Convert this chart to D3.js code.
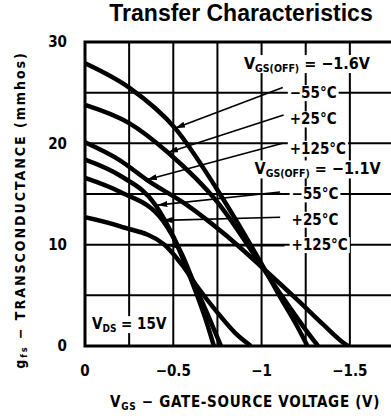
<!DOCTYPE html>
<html>
<head>
<meta charset="utf-8">
<script src="https://cdn.jsdelivr.net/npm/d3@7"></script>
<style>
  body { margin: 0; background: #fff; }
  svg { display: block; }
  .cond { font-family: "Liberation Sans Narrow", "DejaVu Sans Condensed", "Liberation Sans", sans-serif; font-weight: bold; font-stretch: condensed; fill: #000; }
  .title { font-family: "Liberation Sans", Arial, sans-serif; font-weight: bold; font-size: 23px; fill: #000; }
</style>
</head>
<body>
<div id="chart"></div>
<script>
/* Transfer Characteristics - gfs vs VGS */

// axis ticks and grid
const xTickValues = [0, -0.5, -1, -1.5];
const xTickLabels = ["0", "\u22120.5", "\u22121", "\u22121.5"];
const yTickValues = [0, 10, 20, 30];
const xGridValues = [-0.25, -0.5, -0.75, -1, -1.25, -1.5, -1.75];
const yGridValues = [5, 10, 15, 20, 25];

// VGS(OFF) = -1.6V curves  [VGS (V), gfs (mmhos)]
const curveA55 = [[0, 27.9], [-0.25, 25.5], [-0.51, 21.5], [-0.75, 15.4], [-1.0, 8.1], [-1.1, 5.0], [-1.2, 2.0], [-1.26, 0]];
const curveA25 = [[0, 23.8], [-0.25, 22.0], [-0.47, 19.1], [-0.75, 14.2], [-1.0, 7.9], [-1.12, 4.8], [-1.25, 1.6], [-1.32, 0]];
const curveA125 = [[0, 20.1], [-0.2, 18.3], [-0.35, 16.4], [-0.57, 14.0], [-0.8, 10.9], [-1.0, 7.8], [-1.2, 4.6], [-1.35, 2.1], [-1.45, 0.5], [-1.49, 0]];

// VGS(OFF) = -1.1V curves
const curveB55 = [[0, 18.4], [-0.2, 16.8], [-0.4, 13.9], [-0.5, 10.8], [-0.6, 6.6], [-0.68, 2.8], [-0.73, 0]];
const curveB25 = [[0, 16.6], [-0.2, 15.2], [-0.44, 12.4], [-0.55, 9.0], [-0.62, 6.1], [-0.7, 2.9], [-0.77, 0]];
const curveB125 = [[0, 12.7], [-0.2, 11.8], [-0.45, 10.0], [-0.55, 8.0], [-0.63, 6.0], [-0.75, 3.3], [-0.85, 1.3], [-0.94, 0]];

const curves = [curveA55, curveA25, curveA125, curveB55, curveB25, curveB125];

// curve labels: text, label anchor (VGS, gfs), arrow start, arrow tip
const labelTexts = ["\u221255\u00b0C", "+25\u00b0C", "+125\u00b0C", "\u221255\u00b0C", "+25\u00b0C", "+125\u00b0C"];
const labelPos = [[-1.16, 25.0], [-1.16, 22.4], [-1.16, 19.5], [-1.17, 15.0], [-1.17, 12.5], [-1.17, 10.0]];
const arrowFrom = [[-1.12, 25.5], [-1.125, 22.8], [-1.12, 20.0], [-1.105, 15.2], [-1.105, 12.7], [-1.13, 9.9]];
const arrowTo = [[-0.51, 21.5], [-0.47, 19.1], [-0.35, 16.4], [-0.41, 13.9], [-0.44, 12.4], [-0.47, 9.9]];

const groupLabels = ["\u22121.6V", "\u22121.1V"];
const groupLabelPos = [[-0.9, 27.9], [-0.96, 17.5]];

const W = 391, H = 416;
const svg = d3.select("#chart").append("svg")
    .attr("width", W)
    .attr("height", H);

const x = d3.scaleLinear().domain([0, -1.75]).range([85, 394]);
const y = d3.scaleLinear().domain([0, 30]).range([346, 42]);

const defs = svg.append("defs");
defs.append("clipPath")
    .attr("id", "plot-clip")
    .append("rect")
    .attr("x", 85).attr("y", 42)
    .attr("width", W - 85).attr("height", 346 - 42);

defs.append("marker")
    .attr("id", "arrowhead")
    .attr("viewBox", "0 0 10 6")
    .attr("refX", 10).attr("refY", 3)
    .attr("markerWidth", 10).attr("markerHeight", 6)
    .attr("markerUnits", "userSpaceOnUse")
    .attr("orient", "auto")
    .append("path")
    .attr("d", "M0,0 L10,3 L0,6 Z")
    .attr("fill", "#000");

// TITLE
svg.append("text")
    .attr("class", "title")
    .attr("x", 241)
    .attr("y", 21)
    .attr("text-anchor", "middle")
    .text("Transfer Characteristics");

const plot = svg.append("g").attr("clip-path", "url(#plot-clip)");

// GRID LINES
plot.selectAll(".vgrid")
    .data(xGridValues)
    .enter()
    .append("line")
    .attr("x1", d => x(d)).attr("x2", d => x(d))
    .attr("y1", y(30)).attr("y2", y(0))
    .attr("stroke", "#000")
    .attr("stroke-width", 2);

plot.selectAll(".hgrid")
    .data(yGridValues)
    .enter()
    .append("line")
    .attr("x1", x(0)).attr("x2", W)
    .attr("y1", d => y(d)).attr("y2", d => y(d))
    .attr("stroke", "#000")
    .attr("stroke-width", 2);

// CURVES
const line = d3.line()
    .x(d => x(d[0]))
    .y(d => y(d[1]))
    .curve(d3.curveMonotoneX);

plot.selectAll(".curve")
    .data(curves)
    .enter()
    .append("path")
    .attr("d", line)
    .attr("fill", "none")
    .attr("stroke", "#000")
    .attr("stroke-width", 4.5)
    .attr("stroke-linejoin", "round");

// ARROWS
plot.selectAll(".arrow")
    .data(arrowFrom)
    .enter()
    .append("line")
    .attr("x1", d => x(d[0]))
    .attr("y1", d => y(d[1]))
    .attr("x2", (d, i) => x(arrowTo[i][0]))
    .attr("y2", (d, i) => y(arrowTo[i][1]))
    .attr("stroke", "#000")
    .attr("stroke-width", 1.6)
    .attr("marker-end", "url(#arrowhead)");

// text with a white box behind it, knocks the grid out
function boxedText(parent, build, pad) {
    const g = parent.append("g");
    const bg = g.append("rect").attr("fill", "#fff");
    const t = build(g);
    const bb = t.node().getBBox();
    bg.attr("x", bb.x - pad).attr("y", bb.y + 1)
        .attr("width", bb.width + pad * 2).attr("height", bb.height - 2);
    return g;
}

// CURVE LABELS
labelTexts.forEach((txt, i) => {
    boxedText(plot, g => g.append("text")
        .attr("class", "cond")
        .attr("x", x(labelPos[i][0]))
        .attr("y", y(labelPos[i][1]))
        .attr("dy", "0.36em")
        .attr("font-size", 15)
        .text(txt), 2);
});

// VGS(OFF) labels
groupLabels.forEach((txt, i) => {
    boxedText(plot, g => {
        const t = g.append("text")
            .attr("class", "cond")
            .attr("x", x(groupLabelPos[i][0]))
            .attr("y", y(groupLabelPos[i][1]))
            .attr("dy", "0.36em")
            .attr("font-size", 16);
        t.append("tspan").text("V");
        t.append("tspan").attr("font-size", 10.5).attr("dy", 3).text("GS(OFF)");
        t.append("tspan").attr("dy", -3).text(" = " + txt);
        return t;
    }, 2);
});

// VDS label
boxedText(plot, g => {
    const t = g.append("text")
        .attr("class", "cond")
        .attr("x", 92)
        .attr("y", y(2.2))
        .attr("dy", "0.36em")
        .attr("font-size", 15);
    t.append("tspan").text("V");
    t.append("tspan").attr("font-size", 10).attr("dy", 3).text("DS");
    t.append("tspan").attr("dy", -3).text(" = 15V");
    return t;
}, 2);

// FRAME
svg.append("path")
    .attr("d", `M${W},${y(30)} H${x(0)} V${y(0)} H${W}`)
    .attr("fill", "none")
    .attr("stroke", "#000")
    .attr("stroke-width", 3);

// TICK LABELS
svg.selectAll(".ytick")
    .data(yTickValues)
    .enter()
    .append("text")
    .attr("class", "cond")
    .attr("x", 67)
    .attr("y", d => y(d))
    .attr("dy", "0.36em")
    .attr("text-anchor", "end")
    .attr("font-size", 15)
    .text(d => d);

svg.selectAll(".xtick")
    .data(xTickValues)
    .enter()
    .append("text")
    .attr("class", "cond")
    .attr("x", d => x(d))
    .attr("y", 376)
    .attr("text-anchor", "middle")
    .attr("font-size", 15)
    .text((d, i) => xTickLabels[i]);

// AXIS TITLES
const xt = svg.append("text")
    .attr("class", "cond")
    .attr("x", 110)
    .attr("y", 407)
    .attr("font-size", 15)
    .attr("letter-spacing", 0.7);
xt.append("tspan").text("V");
xt.append("tspan").attr("font-size", 10).attr("dy", 3).text("GS");
xt.append("tspan").attr("dy", -3).text(" \u2212 GATE-SOURCE VOLTAGE (V)");

const yt = svg.append("text")
    .attr("class", "cond")
    .attr("transform", "translate(25,210) rotate(-90)")
    .attr("text-anchor", "middle")
    .attr("font-size", 14)
    .attr("letter-spacing", 2);
yt.append("tspan").text("g");
yt.append("tspan").attr("font-size", 9).attr("dy", 2).text("fs");
yt.append("tspan").attr("dy", -2).text(" \u2212 TRANSCONDUCTANCE (mmhos)");
</script>
</body>
</html>
